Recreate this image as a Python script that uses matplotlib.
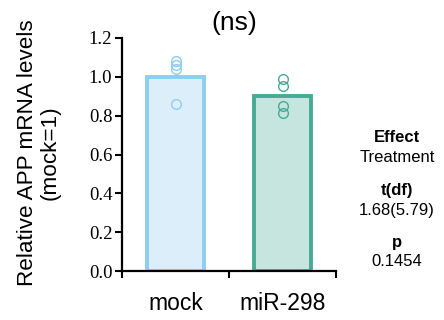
import matplotlib
matplotlib.use("Agg")
import matplotlib.pyplot as plt

groups = ["mock", "miR-298"]
means = [1.0, 0.90]
points = [[1.08, 1.06, 1.04, 0.86], [0.99, 0.955, 0.85, 0.815]]
edge_colors = ["#8DCEEE", "#46AA96"]
fill_colors = ["#DCEEFA", "#C6E5DF"]
yticks = [0.0, 0.2, 0.4, 0.6, 0.8, 1.0, 1.2]
stats = [("Effect", "Treatment"), ("t(df)", "1.68(5.79)"), ("p", "0.1454")]

W, H = 444, 320
fig = plt.figure(figsize=(W / 100, H / 100), dpi=100)
ax = fig.add_axes([122 / W, 1 - 271 / H, (336 - 122) / W, (271 - 38) / H])

xs = [i + 0.5 for i in range(len(groups))]
ax.bar(xs, means, width=0.53, color=fill_colors, edgecolor=edge_colors, linewidth=2.8, zorder=2)
for x, pts, c in zip(xs, points, edge_colors):
    ax.plot([x] * len(pts), pts, "o", mfc="none", mec=c, ms=7, mew=1.0, zorder=3)

ax.set_xlim(0, 2)
ax.set_ylim(0, 1.2)
ax.set_yticks(yticks)
ax.set_yticklabels([f"{v:.1f}" for v in yticks], family="Liberation Serif", fontsize=13.5)
ax.set_xticks([0, 1, 2])
ax.set_xticklabels([])
ax.set_xticks(xs, minor=True)
ax.set_xticklabels(groups, minor=True, family="Liberation Sans", fontsize=16.5)
ax.tick_params(axis="x", which="minor", length=0, pad=15)
ax.tick_params(axis="both", which="major", width=1.5, length=5, color="black")
ax.tick_params(axis="y", pad=2)
for s in ["top", "right"]:
    ax.spines[s].set_visible(False)
for s in ["left", "bottom"]:
    ax.spines[s].set_linewidth(1.6)

fig.text(39 / W, 1 - 153 / H, "Relative APP mRNA levels\n(mock=1)", rotation=90,
         ha="center", va="center", family="Liberation Sans", fontsize=16.2, linespacing=1.1)
fig.text(234 / W, 1 - 23 / H, "(ns)", ha="center", va="center", family="Liberation Sans", fontsize=19)

for i, (head, val) in enumerate(stats):
    y0 = 138 + i * 52
    fig.text(397 / W, 1 - y0 / H, head, ha="center", va="center", family="Liberation Sans",
             fontsize=12, fontweight="bold")
    fig.text(397 / W, 1 - (y0 + 20) / H, val, ha="center", va="center", family="Liberation Sans",
             fontsize=12)

fig.savefig("out.png", dpi=100)
